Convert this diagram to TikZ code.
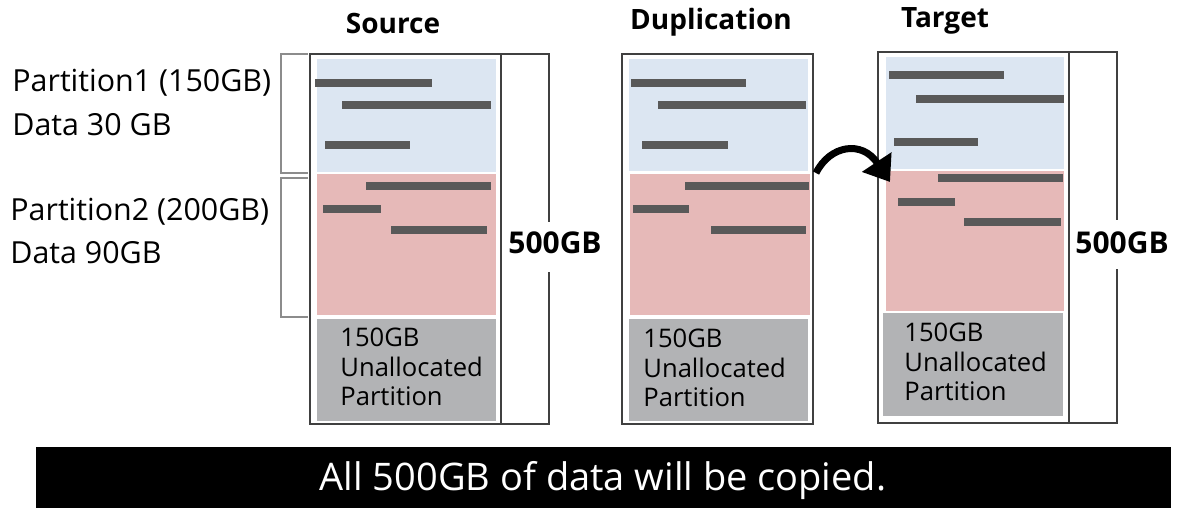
\documentclass[tikz,border=0pt]{standalone}
\usepackage{fontspec}
\setmainfont{Open Sans}
\usetikzlibrary{arrows.meta,positioning}
\definecolor{partblue}{HTML}{DCE6F2}
\definecolor{partred}{HTML}{E6B9B8}
\definecolor{freegray}{HTML}{B2B3B5}
\definecolor{bargray}{HTML}{595959}
\definecolor{framegray}{HTML}{404040}
\definecolor{bracegray}{HTML}{8C8C8C}

\begin{document}
\begin{tikzpicture}[x=0.5pt,y=-0.5pt,
  frame/.style={draw=framegray,line width=0.8pt},
  brace/.style={draw=bracegray,line width=0.6pt},
  databar/.style={draw=bargray,line width=4pt},
  title/.style={font=\bfseries\fontsize{14}{16}\selectfont,anchor=base},
  side/.style={font=\fontsize{15.2}{17}\selectfont,anchor=base west,inner sep=0pt},
  free/.style={font=\fontsize{12.8}{14.7}\selectfont,anchor=north west,align=left,inner sep=0pt},
  size/.style={font=\bfseries\fontsize{15}{17}\selectfont,anchor=base}]
\useasboundingbox (0,0) rectangle (1177,508);

% Titles
\node[title] (tsrc) at (393,34) {Source};
\node[title] (tdup) at (711,30) {Duplication};
\node[title] (ttgt) at (945,28) {Target};

% Partition labels
\node[side] (p1) at (12,92) {Partition1 (150GB)};
\node[side] (d1) at (12,135) {Data 30 GB};
\node[side] (p2) at (10,220) {Partition2 (200GB)};
\node[side] (d2) at (10,263) {Data 90GB};
\draw[brace] (308,54) -- (281,54) -- (281,173) -- (308,173);
\draw[brace] (308,178) -- (281,178) -- (281,317) -- (308,317);

% Source disk
\draw[frame] (310,54) rectangle (501,424);
\fill[partblue] (317,59) rectangle (496,172);
\fill[partred] (317,174) rectangle (496,315);
\fill[freegray] (317,319) rectangle (496,421);
\draw[databar] (315,83) -- (432,83);
\draw[databar] (342,105) -- (491,105);
\draw[databar] (325,145) -- (410,145);
\draw[databar] (366,186) -- (491,186);
\draw[databar] (323,209) -- (381,209);
\draw[databar] (391,230) -- (487,230);
\node[free] (fsrc) at (340,328) {150GB\\Unallocated\\Partition};
\draw[frame] (501,54) -- (549,54) -- (549,222);
\draw[frame] (549,272) -- (549,424) -- (501,424);
\node[size] (ssrc) at (555,253) {500GB};

% Duplication disk
\draw[frame] (622,54) rectangle (813,424);
\fill[partblue] (629,59) rectangle (808,171);
\fill[partred] (630,174) rectangle (810,315);
\fill[freegray] (629,319) rectangle (808,421);
\draw[databar] (631,83) -- (746,83);
\draw[databar] (658,105) -- (806,105);
\draw[databar] (642,145) -- (728,145);
\draw[databar] (685,186) -- (809,186);
\draw[databar] (633,209) -- (689,209);
\draw[databar] (711,230) -- (806,230);
\node[free] (fdup) at (643,329) {150GB\\Unallocated\\Partition};

% Target disk
\draw[frame] (878,52) rectangle (1069,423);
\fill[partblue] (886,57) rectangle (1064,169);
\fill[partred] (886,171) rectangle (1064,311);
\fill[freegray] (883,313) rectangle (1063,416);
\draw[databar] (889,75) -- (1004,75);
\draw[databar] (916,99) -- (1064,99);
\draw[databar] (894,142) -- (978,142);
\draw[databar] (938,178) -- (1063,178);
\draw[databar] (898,202) -- (955,202);
\draw[databar] (964,222) -- (1061,222);
\node[free] (ftgt) at (904,323) {150GB\\Unallocated\\Partition};
\draw[frame] (1069,52) -- (1117,52) -- (1117,220);
\draw[frame] (1117,269) -- (1117,423) -- (1069,423);
\node[size] (stgt) at (1122,253) {500GB};

% Copy arrow
\coordinate (dupout) at (816,173);
\coordinate (tgtin) at (890,182);
\draw[line width=3.5pt,-{Triangle[length=12pt,width=17pt]}] (dupout) .. controls (830,145) and (862,140) .. (tgtin);

% Caption
\fill[black] (36,447) rectangle (1171,508);
\node[font=\fontsize{19}{22}\selectfont,text=white,anchor=base] (cap) at (603,490) {All 500GB of data will be copied.};
\end{tikzpicture}
\end{document}
